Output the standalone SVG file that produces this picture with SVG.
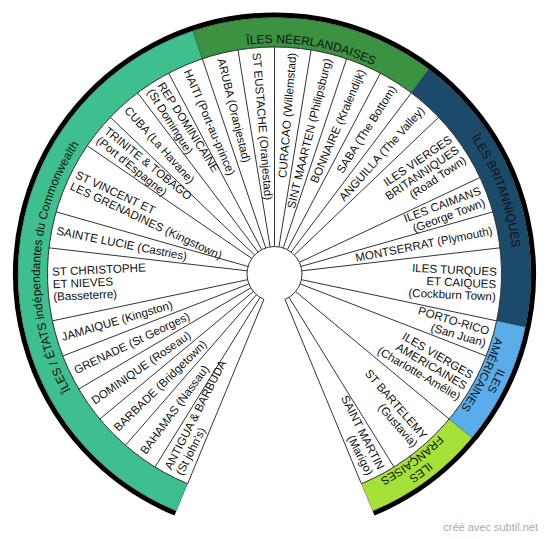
<svg xmlns="http://www.w3.org/2000/svg" width="550" height="539" viewBox="0 0 550 539">
<style>
.cell{fill:#fff;stroke:#333;stroke-width:1}
.div{stroke:#333;stroke-width:1;fill:none}
.seg{stroke:rgba(0,0,0,0.35);stroke-width:0.8}
.l{font-family:"Liberation Sans",Arial,sans-serif;font-size:11.6px;fill:#111}
.e{text-anchor:end}
.rl{font-family:"Liberation Sans",Arial,sans-serif;font-size:12px;fill:#111;text-anchor:middle}
.r2{font-size:11.5px}
.foot{font-family:"Liberation Sans",Arial,sans-serif;font-size:11px;fill:#aaa;text-anchor:end}
</style>
<defs>
<path id="pc" d="M -28.52 232.76 A 234.5 234.5 0 0 1 -12.33 -234.18"/>
<path id="pn" d="M -223.88 -56.92 A 231 231 0 0 1 230.36 17.18"/>
<path id="pb" d="M -63.93 -230.29 A 239 239 0 0 1 102.95 215.69"/>
<path id="pa1" d="M 124.20 -208.28 A 242.5 242.5 0 0 1 -86.15 226.68"/>
<path id="pa2" d="M 117.54 -197.11 A 229.5 229.5 0 0 1 -81.53 214.53"/>
<path id="pf1" d="M 207.42 -126.60 A 243 243 0 0 1 -182.29 160.69"/>
<path id="pf2" d="M 196.33 -119.83 A 230 230 0 0 1 -172.53 152.09"/>
</defs>
<rect width="550" height="539" fill="#fff"/>
<g transform="translate(274.5,274)">
<path d="M -99.114 239.28 A 259 259 0 1 1 99.114 239.28" fill="none" stroke="#000" stroke-width="5"/>
<g id="ring-commonwealth"><path class="seg" fill="#3fbf8e" d="M -86.87 209.72 L -98.157 236.98 A 256.5 256.5 0 0 1 -81.513 -243.20 L -72.138 -215.23 A 227 227 0 0 0 -86.87 209.72 Z"/>
<text class="rl"><textPath href="#pc" startOffset="50%">ÎLES / ÉTATS indépendantes du Commonwealth</textPath></text></g>
<g id="ring-neerlandaises"><path class="seg" fill="#3b9240" d="M -72.138 -215.23 L -81.513 -243.20 A 256.5 256.5 0 0 1 154.57 -204.69 L 136.80 -181.15 A 227 227 0 0 0 -72.138 -215.23 Z"/>
<text class="rl"><textPath href="#pn" startOffset="50%">ÎLES NÉERLANDAISES</textPath></text></g>
<g id="ring-britanniques"><path class="seg" fill="#1c4a6b" d="M 136.80 -181.15 L 154.57 -204.69 A 256.5 256.5 0 0 1 250.98 52.94 L 222.11 46.85 A 227 227 0 0 0 136.80 -181.15 Z"/>
<text class="rl"><textPath href="#pb" startOffset="50%">ÎLES BRITANNIQUES</textPath></text></g>
<g id="ring-americaines"><path class="seg" fill="#5aacea" d="M 222.11 46.85 L 250.98 52.94 A 256.5 256.5 0 0 1 197.34 163.86 L 174.64 145.02 A 227 227 0 0 0 222.11 46.85 Z"/>
<text class="rl r2"><textPath href="#pa1" startOffset="50%">ILES</textPath></text>
<text class="rl r2"><textPath href="#pa2" startOffset="50%">AMÉRICAINES</textPath></text></g>
<g id="ring-francaises"><path class="seg" fill="#a6e13a" d="M 174.64 145.02 L 197.34 163.86 A 256.5 256.5 0 0 1 98.157 236.98 L 86.87 209.72 A 227 227 0 0 0 174.64 145.02 Z"/>
<text class="rl r2"><textPath href="#pf1" startOffset="50%">ILES</textPath></text>
<text class="rl r2"><textPath href="#pf2" startOffset="50%">FRANÇAISES</textPath></text></g>
<path class="cell" d="M -10.524 25.407 L -86.87 209.72 A 227 227 0 1 1 86.87 209.72 L 10.524 25.407 A 27.5 27.5 0 1 0 -10.524 25.407 Z"/>
<g id="connectors">
<path class="div" d="M -14.477 23.381 L -119.50 193.00 M -18.052 20.745 L -149.01 171.24 M -21.157 17.568 L -174.64 145.02 M -23.709 13.933 L -195.71 115.01 M -25.643 9.934 L -211.67 82.00 M -26.908 5.676 L -222.11 46.85 M -27.317 -3.170 L -225.49 -26.16 M -26.450 -7.526 L -218.33 -62.12 M -22.687 -15.542 L -187.27 -128.29 M -19.889 -18.991 L -164.18 -156.76 M -16.572 -21.946 L -136.80 -181.15 M -12.823 -24.327 L -105.85 -200.81 M -8.739 -26.074 L -72.138 -215.23 M -4.427 -27.141 L -36.545 -224.04 M 0 -27.5 L 0 -227 M 4.427 -27.141 L 36.545 -224.04 M 8.739 -26.074 L 72.138 -215.23 M 12.823 -24.327 L 105.85 -200.81 M 16.572 -21.946 L 136.80 -181.15 M 19.889 -18.991 L 164.18 -156.76 M 24.893 -11.686 L 205.48 -96.47 M 26.450 -7.526 L 218.33 -62.12 M 27.317 -3.170 L 225.49 -26.16 M 26.908 5.676 L 222.11 46.85 M 25.643 9.934 L 211.67 82.00 M 21.157 17.568 L 174.64 145.02 M 14.477 23.381 L 119.50 193.00"/>
</g>
<g id="n-antigua" transform="rotate(-62.868)"><text class="l" x="-222" y="-2.25">ANTIGUA &amp; BARBUDA</text><text class="l" x="-222" y="10.25">(St john's)</text></g>
<g id="n-bahamas" transform="rotate(-53.603)"><text class="l" x="-222" y="4">BAHAMAS (Nassau)</text></g>
<g id="n-barbade" transform="rotate(-44.338)"><text class="l" x="-222" y="4">BARBADE (Bridgetown)</text></g>
<g id="n-dominique" transform="rotate(-35.074)"><text class="l" x="-222" y="4">DOMINIQUE (Roseau)</text></g>
<g id="n-grenade" transform="rotate(-25.809)"><text class="l" x="-222" y="4">GRENADE (St Georges)</text></g>
<g id="n-jamaique" transform="rotate(-16.544)"><text class="l" x="-222" y="4">JAMAIQUE (Kingston)</text></g>
<g id="n-stchristophe" transform="rotate(-2.647)"><text class="l" x="-222" y="-8.5">ST CHRISTOPHE</text><text class="l" x="-222" y="4">ET NIEVES</text><text class="l" x="-222" y="16.5">(Basseterre)</text></g>
<g id="n-saintelucie" transform="rotate(11.25)"><text class="l" x="-222" y="4">SAINTE LUCIE (Castries)</text></g>
<g id="n-stvincent" transform="rotate(25.147)"><text class="l" x="-222" y="-2.25">ST VINCENT ET</text><text class="l" x="-222" y="10.25">LES GRENADINES (Kingstown)</text></g>
<g id="n-trinite" transform="rotate(39.044)"><text class="l" x="-222" y="-2.25">TRINITE &amp; TOBAGO</text><text class="l" x="-222" y="10.25">(Port d'Espagne)</text></g>
<g id="n-cuba" transform="rotate(48.309)"><text class="l" x="-222" y="4">CUBA (La Havane)</text></g>
<g id="n-repdom" transform="rotate(57.574)"><text class="l" x="-222" y="-2.25">REP DOMINICAINE</text><text class="l" x="-222" y="10.25">(St Domingue)</text></g>
<g id="n-haiti" transform="rotate(66.838)"><text class="l" x="-222" y="4">HAITI (Port-au-prince)</text></g>
<g id="n-aruba" transform="rotate(76.103)"><text class="l" x="-222" y="4">ARUBA (Oranjestad)</text></g>
<g id="n-steustache" transform="rotate(85.368)"><text class="l" x="-222" y="4">ST EUSTACHE (Oranjestad)</text></g>
<g id="n-curacao" transform="rotate(-85.368)"><text class="l e" x="222" y="4">CURACAO (Willemstad)</text></g>
<g id="n-sintmaarten" transform="rotate(-76.103)"><text class="l e" x="222" y="4">SINT MAARTEN (Philipsburg)</text></g>
<g id="n-bonnaire" transform="rotate(-66.838)"><text class="l e" x="222" y="4">BONNAIRE (Kralendijk)</text></g>
<g id="n-saba" transform="rotate(-57.574)"><text class="l e" x="222" y="4">SABA (The Bottom)</text></g>
<g id="n-anguilla" transform="rotate(-48.309)"><text class="l e" x="222" y="4">ANGUILLA (The Valley)</text></g>
<g id="n-ivb" transform="rotate(-34.412)"><text class="l e" x="222" y="-8.5">ILES VIERGES</text><text class="l e" x="222" y="4">BRITANNIQUES</text><text class="l e" x="222" y="16.5">(Road Town)</text></g>
<g id="n-caimans" transform="rotate(-20.515)"><text class="l e" x="222" y="-2.25">ILES CAIMANS</text><text class="l e" x="222" y="10.25">(George Town)</text></g>
<g id="n-montserrat" transform="rotate(-11.25)"><text class="l e" x="222" y="4">MONTSERRAT (Plymouth)</text></g>
<g id="n-turques" transform="rotate(2.647)"><text class="l e" x="222" y="-8.5">ILES TURQUES</text><text class="l e" x="222" y="4">ET CAIQUES</text><text class="l e" x="222" y="16.5">(Cockburn Town)</text></g>
<g id="n-portorico" transform="rotate(16.544)"><text class="l e" x="222" y="-2.25">PORTO-RICO</text><text class="l e" x="222" y="10.25">(San Juan)</text></g>
<g id="n-iva" transform="rotate(30.441)"><text class="l e" x="222" y="-8.5">ILES VIERGES</text><text class="l e" x="222" y="4">AMERICAINES</text><text class="l e" x="222" y="16.5">(Charlotte-Amélie)</text></g>
<g id="n-stbartelemy" transform="rotate(48.971)"><text class="l e" x="222" y="-2.25">ST BARTELEMY</text><text class="l e" x="222" y="10.25">(Gustavia)</text></g>
<g id="n-saintmartin" transform="rotate(62.868)"><text class="l e" x="222" y="-2.25">SAINT MARTIN</text><text class="l e" x="222" y="10.25">(Marigo)</text></g>
</g>
<text class="foot" x="538" y="531">créé avec subtil.net</text>
</svg>
